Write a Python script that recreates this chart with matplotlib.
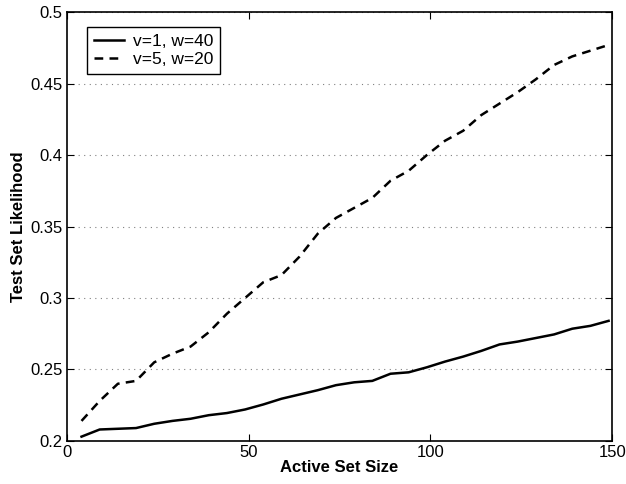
import matplotlib
matplotlib.use("Agg")
import matplotlib.pyplot as plt

plt.rcParams['font.family'] = ['Liberation Sans', 'DejaVu Sans']

x = list(range(4, 150, 5))
v1_w40 = [0.203, 0.208, 0.2085, 0.209, 0.212, 0.214, 0.2155, 0.218, 0.2195, 0.222,
          0.2255, 0.2295, 0.2325, 0.2355, 0.239, 0.241, 0.242, 0.247, 0.248, 0.2515,
          0.2555, 0.259, 0.263, 0.2675, 0.2695, 0.272, 0.2745, 0.2785, 0.2805, 0.284]
v5_w20 = [0.214, 0.228, 0.240, 0.242, 0.255, 0.261, 0.266, 0.276, 0.289, 0.300,
          0.311, 0.316, 0.329, 0.345, 0.356, 0.363, 0.370, 0.382, 0.389, 0.400,
          0.410, 0.417, 0.428, 0.436, 0.444, 0.453, 0.463, 0.469, 0.473, 0.477]
labels = ['v=1, w=40', 'v=5, w=20']

fig = plt.figure(figsize=(6.26, 4.84), dpi=100)
ax = fig.add_axes([0.107, 0.089, 0.871, 0.886])

ax.plot(x, v1_w40, color='black', linestyle='-', linewidth=1.8, label=labels[0])
ax.plot(x, v5_w20, color='black', linestyle=(0, (3.5, 2.5)), linewidth=1.8, label=labels[1])

ax.set_xlim(0, 150)
ax.set_ylim(0.2, 0.5)
ax.set_xticks([0, 50, 100, 150])
ax.set_yticks([0.2, 0.25, 0.3, 0.35, 0.4, 0.45, 0.5])
ax.set_yticklabels(['0.2', '0.25', '0.3', '0.35', '0.4', '0.45', '0.5'])
ax.tick_params(direction='in', top=True, right=True, labelsize=12, length=5, pad=3)
ax.yaxis.grid(True, linestyle=(0, (1, 4)), color='gray', linewidth=0.8)

for s in ax.spines.values():
    s.set_linewidth(1.2)

ax.set_xlabel('Active Set Size', fontsize=12, fontweight='bold', labelpad=0)
ax.set_ylabel('Test Set Likelihood', fontsize=12, fontweight='bold', labelpad=3)

leg = ax.legend(loc='upper left', bbox_to_anchor=(0.037, 0.965), fontsize=12.5,
                fancybox=False, edgecolor='black', framealpha=1,
                handlelength=1.75, handletextpad=0.5, borderpad=0.4,
                labelspacing=0.15, borderaxespad=0)
leg.get_frame().set_linewidth(1.0)

fig.savefig('out.png', dpi=100)
